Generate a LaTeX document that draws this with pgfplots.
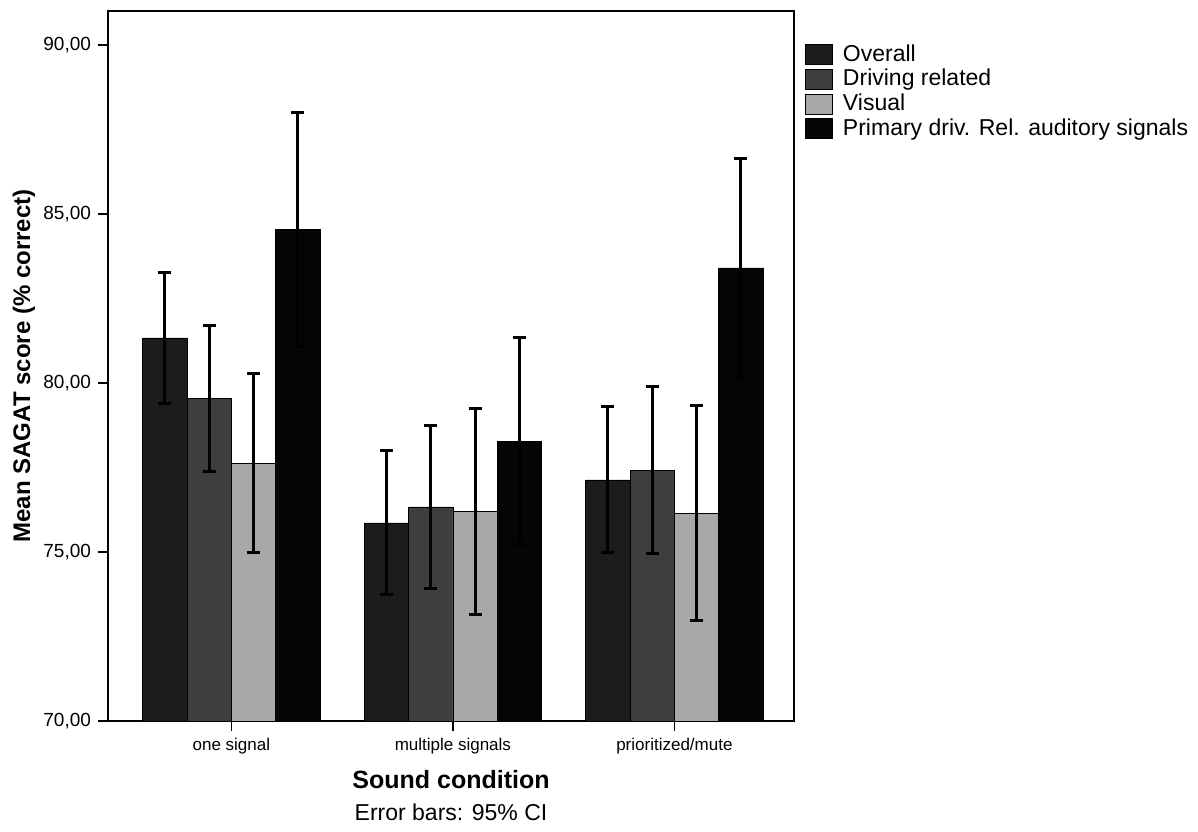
\documentclass[border=0pt]{standalone}
\usepackage{pgfplots}
\pgfplotsset{compat=1.18}
\usepackage{fontspec}
\setmainfont{Liberation Sans}
\definecolor{cOverall}{HTML}{1C1C1C}
\definecolor{cDriving}{HTML}{3E3E3E}
\definecolor{cVisual}{HTML}{A8A8A8}
\definecolor{cPrimary}{HTML}{050505}
\begin{document}
\begin{tikzpicture}
\useasboundingbox (-54pt,-55pt) rectangle (545pt,360.5pt);
\begin{axis}[
  at={(0pt,0pt)}, anchor=south west,
  scale only axis, width=343pt, height=355pt,
  xmin=-0.557, xmax=2.54, ymin=70, ymax=91.0,
  ybar=0pt, bar width=0.2,
  xtick={0,1,2},
  xticklabels={one signal, multiple signals, prioritized/mute},
  ytick={70,75,80,85,90},
  tick align=outside, xtick pos=bottom, ytick pos=left,
  major tick length=5pt,
  tick style={black, line width=0.8pt},
  axis line style={line width=0.8pt},
  /pgf/number format/assume math mode=true,
  yticklabel style={/pgf/number format/fixed, /pgf/number format/fixed zerofill, /pgf/number format/precision=2, /pgf/number format/use comma, font=\fontsize{9.5}{10}\selectfont},
  xticklabel style={font=\fontsize{8.5}{9}\selectfont},
  ylabel={\textbf{Mean SAGAT score (\% correct)}},
  ylabel style={font=\fontsize{12}{12}\selectfont, at={(axis description cs:-0.1225,0.5)}, anchor=center},
  xlabel={\textbf{Sound condition}},
  xlabel style={font=\fontsize{12.5}{13}\selectfont, at={(axis description cs:0.5,0)}, anchor=center, yshift=-29.5pt},
  legend style={draw=none, fill=none, at={(axis description cs:1.016,0.956)}, anchor=north west,
    font=\fontsize{11.5}{12}\selectfont, inner xsep=0pt, inner ysep=0pt, row sep=0.5pt,
    nodes={inner sep=1pt}, cells={anchor=west},
    /tikz/every odd column/.style={column sep=4pt}},
  legend image code/.code={\draw[#1, draw=black, line width=0.3pt] (0pt,-5pt) rectangle (13.5pt,5pt);},
  error bars/y dir=both, error bars/y explicit,
  error bars/error bar style={line width=1.5pt, black},
  error bars/error mark options={rotate=90, line width=1.5pt, mark size=3.25pt, black},
  clip=false,
]
\addplot[fill=cOverall, draw=black, line width=0.3pt, bar shift=-0.3] coordinates {(0,81.33) +- (0,1.95) (1,75.86) +- (0,2.13) (2,77.13) +- (0,2.16)};
\addplot[fill=cDriving, draw=black, line width=0.3pt, bar shift=-0.1] coordinates {(0,79.53) +- (0,2.16) (1,76.33) +- (0,2.40) (2,77.42) +- (0,2.46)};
\addplot[fill=cVisual, draw=black, line width=0.3pt, bar shift=0.1] coordinates {(0,77.63) +- (0,2.64) (1,76.19) +- (0,3.05) (2,76.14) +- (0,3.18)};
\addplot[fill=cPrimary, draw=black, line width=0.3pt, bar shift=0.3] coordinates {(0,84.53) +- (0,3.46) (1,78.28) +- (0,3.05) (2,83.40) +- (0,3.23)};
\legend{Overall, Driving related, Visual, Primary driv. Rel. auditory signals}
\node[font=\fontsize{11.5}{12}\selectfont] at (axis description cs:0.5,0) [yshift=-45.5pt] {Error bars: 95\% CI};
\end{axis}
\end{tikzpicture}
\end{document}
